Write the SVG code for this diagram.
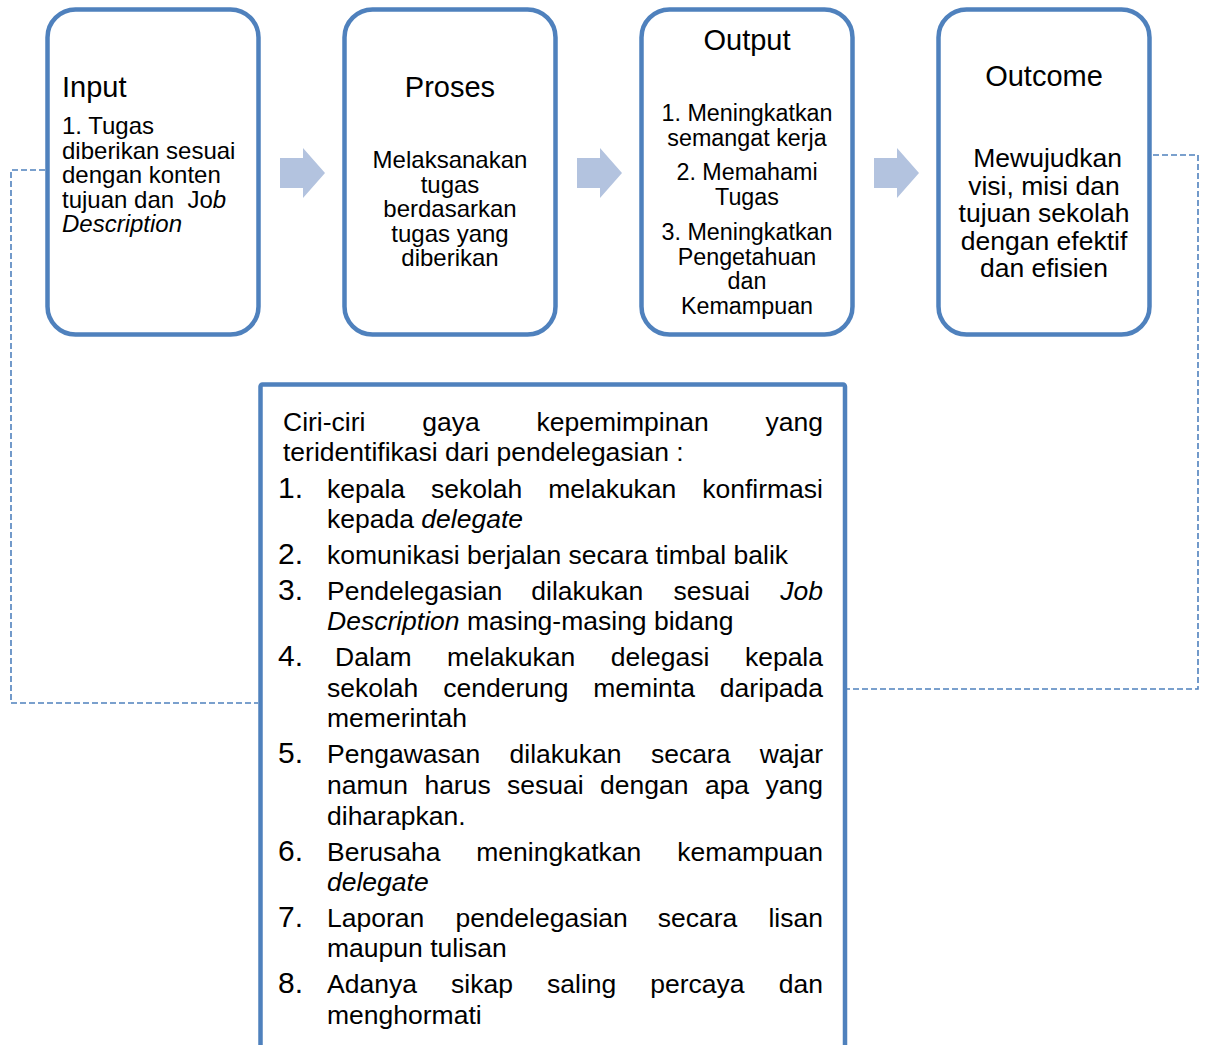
<svg xmlns="http://www.w3.org/2000/svg" width="1207" height="1045" viewBox="0 0 1207 1045">
<style>
.box{fill:#fff;stroke:#4F81BD;stroke-width:4.5}
.arr{fill:#B3C3DF}
.conn{fill:none;stroke:#4F81BD;stroke-width:1.6;stroke-dasharray:6 3}
text{font-family:"Liberation Sans",Arial,sans-serif;fill:#000;white-space:pre}
.ti{font-size:29px}
.s24{font-size:24px}
.s22{font-size:23.3px}
.s26{font-size:26.5px}
.num{font-size:30px}
.c{text-anchor:middle}
.e{text-anchor:end}
.i{font-style:italic}
</style>
<rect width="1207" height="1045" fill="#fff"/>
<g id="connectors">
<path class="conn" d="M45,170 H11 V703 H258"/>
<path class="conn" d="M1153,155 H1198 V689 H847"/>
<polygon class="arr" points="280,158 303,158 303,148 325,173 303,198 303,188 280,188"/>
<polygon class="arr" points="577,158 600,158 600,148 622,173 600,198 600,188 577,188"/>
<polygon class="arr" points="874,158 897,158 897,148 919,173 897,198 897,188 874,188"/>
</g>
<g id="input">
<rect class="box" x="47.5" y="9.5" width="211" height="325" rx="28"/>
<text class="ti" x="62" y="97">Input</text>
<text class="s24" x="62" y="134">1. Tugas</text>
<text class="s24" x="62" y="158.5">diberikan sesuai</text>
<text class="s24" x="62" y="183">dengan konten</text>
<text class="s24" x="62" y="207.5">tujuan dan  Jo<tspan class="i">b</tspan></text>
<text class="s24 i" x="62" y="232">Description</text>
</g>
<g id="proses">
<rect class="box" x="344.5" y="9.5" width="211" height="325" rx="28"/>
<text class="ti c" x="450" y="97">Proses</text>
<text class="s24 c" x="450" y="168">Melaksanakan</text>
<text class="s24 c" x="450" y="192.5">tugas</text>
<text class="s24 c" x="450" y="217">berdasarkan</text>
<text class="s24 c" x="450" y="241.5">tugas yang</text>
<text class="s24 c" x="450" y="266">diberikan</text>
</g>
<g id="output">
<rect class="box" x="641.5" y="9.5" width="211" height="325" rx="28"/>
<text class="ti c" x="747" y="50">Output</text>
<text class="s22 c" x="747" y="121">1. Meningkatkan</text>
<text class="s22 c" x="747" y="146">semangat kerja</text>
<text class="s22 c" x="747" y="180">2. Memahami</text>
<text class="s22 c" x="747" y="205">Tugas</text>
<text class="s22 c" x="747" y="240">3. Meningkatkan</text>
<text class="s22 c" x="747" y="265">Pengetahuan</text>
<text class="s22 c" x="747" y="289">dan</text>
<text class="s22 c" x="747" y="314">Kemampuan</text>
</g>
<g id="outcome">
<rect class="box" x="938.5" y="9.5" width="211" height="325" rx="28"/>
<text class="ti c" x="1044" y="86">Outcome</text>
<text class="s26 c" x="1044" y="167"> Mewujudkan</text>
<text class="s26 c" x="1044" y="194.5">visi, misi dan</text>
<text class="s26 c" x="1044" y="222">tujuan sekolah</text>
<text class="s26 c" x="1044" y="249.5">dengan efektif</text>
<text class="s26 c" x="1044" y="277">dan efisien</text>
</g>
<g id="ciri-ciri">
<rect class="box" x="260.5" y="384.5" width="584.5" height="680" rx="2"/>
<text class="s26" y="431"><tspan x="283">Ciri-ciri</tspan><tspan x="422.2">gaya</tspan><tspan x="536.5">kepemimpinan</tspan><tspan x="823" class="e">yang</tspan></text>
<text class="s26" x="283" y="461">teridentifikasi dari pendelegasian :</text>
<text class="num" x="278" y="498">1.</text>
<text class="s26" y="498"><tspan x="327">kepala</tspan><tspan x="431">sekolah</tspan><tspan x="548.2">melakukan</tspan></text>
<text class="s26 e" x="823" y="498">konfirmasi</text>
<text class="s26" x="327" y="528">kepada <tspan class="i">delegate</tspan></text>
<text class="num" x="278" y="564">2.</text>
<text class="s26" x="327" y="564">komunikasi berjalan secara timbal balik</text>
<text class="num" x="278" y="600">3.</text>
<text class="s26" y="600"><tspan x="327">Pendelegasian</tspan><tspan x="531.3">dilakukan</tspan><tspan x="673.4">sesuai</tspan></text>
<text class="s26 e i" x="823" y="600">Job</text>
<text class="s26" x="327" y="630"><tspan class="i">Description</tspan> masing-masing bidang</text>
<text class="num" x="278" y="666">4.</text>
<text class="s26" y="666"><tspan x="335">Dalam</tspan><tspan x="447.1">melakukan</tspan><tspan x="610.7">delegasi</tspan></text>
<text class="s26 e" x="823" y="666">kepala</text>
<text class="s26" y="697"><tspan x="327">sekolah</tspan><tspan x="443.2">cenderung</tspan><tspan x="593.3">meminta</tspan></text>
<text class="s26 e" x="823" y="697">daripada</text>
<text class="s26" x="327" y="727">memerintah</text>
<text class="num" x="278" y="763">5.</text>
<text class="s26" y="763"><tspan x="327">Pengawasan</tspan><tspan x="509.6">dilakukan</tspan><tspan x="650.9">secara</tspan></text>
<text class="s26 e" x="823" y="763">wajar</text>
<text class="s26" y="794"><tspan x="327">namun</tspan><tspan x="424.4">harus</tspan><tspan x="507.1">sesuai</tspan><tspan x="600.1">dengan</tspan><tspan x="704.9">apa</tspan></text>
<text class="s26 e" x="823" y="794">yang</text>
<text class="s26" x="327" y="825">diharapkan.</text>
<text class="num" x="278" y="861">6.</text>
<text class="s26" y="861"><tspan x="327">Berusaha</tspan><tspan x="476.3">meningkatkan</tspan></text>
<text class="s26 e" x="823" y="861">kemampuan</text>
<text class="s26 i" x="327" y="891">delegate</text>
<text class="num" x="278" y="927">7.</text>
<text class="s26" y="927"><tspan x="327">Laporan</tspan><tspan x="455.4">pendelegasian</tspan><tspan x="657.8">secara</tspan></text>
<text class="s26 e" x="823" y="927">lisan</text>
<text class="s26" x="327" y="957">maupun tulisan</text>
<text class="num" x="278" y="993">8.</text>
<text class="s26" y="993"><tspan x="327">Adanya</tspan><tspan x="451">sikap</tspan><tspan x="547">saling</tspan><tspan x="650.3">percaya</tspan></text>
<text class="s26 e" x="823" y="993">dan</text>
<text class="s26" x="327" y="1024">menghormati</text>
</g>
</svg>
